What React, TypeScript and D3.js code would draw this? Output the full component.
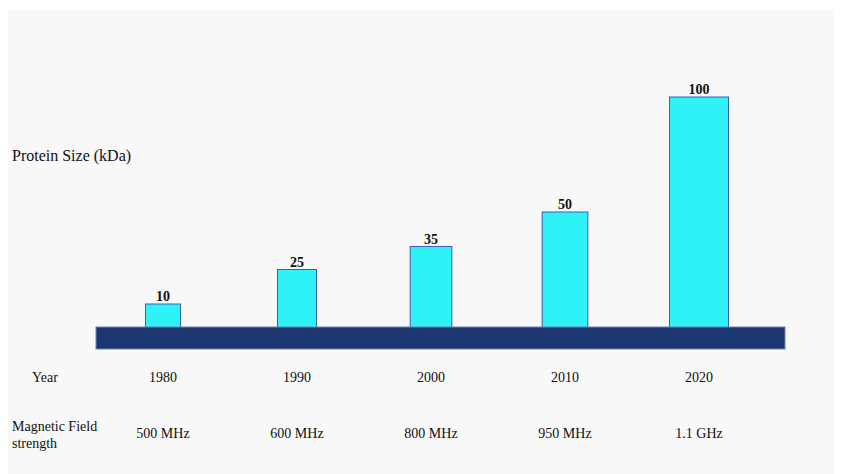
import React from "react";
import * as d3 from "d3";

const years = ["1980", "1990", "2000", "2010", "2020"];
const proteinSize = [10, 25, 35, 50, 100];
const fieldStrength = ["500 MHz", "600 MHz", "800 MHz", "950 MHz", "1.1 GHz"];

const W = 841;
const H = 474;
const baseTop = 327;
const baseBottom = 349;

export default function App() {
  const x = d3.scalePoint<string>().domain(years).range([163, 699]);
  const y = d3.scaleLinear().domain([0, 100]).range([baseTop, baseTop - 230]);
  const w = d3.scaleLinear().domain([10, 100]).range([35, 59]);
  const font = "'Liberation Serif', 'Times New Roman', serif";

  return (
    <svg width={W} height={H} style={{ position: "absolute", left: 0, top: 0 }}>
      <rect x={0} y={0} width={W} height={H} fill="#ffffff" />
      <rect x={8} y={10} width={826} height={H - 10} fill="#f8f8f8" />
      {years.map((yr, i) => {
        const v = proteinSize[i];
        const cx = x(yr)!;
        const bw = w(v);
        return (
          <g key={yr}>
            <rect
              x={cx - bw / 2}
              y={y(v)}
              width={bw}
              height={baseTop + 1 - y(v)}
              fill="#2ef2f5"
              stroke="#3b5cb8"
              strokeWidth={1}
            />
            <text
              x={cx}
              y={y(v) - 3}
              textAnchor="middle"
              fontFamily={font}
              fontWeight="bold"
              fontSize={14}
              fill="#111"
            >
              {v}
            </text>
          </g>
        );
      })}
      <rect
        x={96}
        y={baseTop}
        width={689}
        height={baseBottom - baseTop}
        fill="#1c3670"
        stroke="#7083b3"
        strokeWidth={1}
      />
      <text x={12} y={161} fontFamily={font} fontSize={16} fill="#111">
        Protein Size (kDa)
      </text>
      <text x={32} y={382} fontFamily={font} fontSize={14} fill="#111">
        Year
      </text>
      <text x={12} y={431} fontFamily={font} fontSize={14} fill="#111">
        Magnetic Field
      </text>
      <text x={12} y={448} fontFamily={font} fontSize={14} fill="#111">
        strength
      </text>
      {years.map((yr, i) => (
        <g key={"l" + yr}>
          <text x={x(yr)!} y={382} textAnchor="middle" fontFamily={font} fontSize={14} fill="#111">
            {yr}
          </text>
          <text x={x(yr)!} y={438} textAnchor="middle" fontFamily={font} fontSize={14} fill="#111">
            {fieldStrength[i]}
          </text>
        </g>
      ))}
    </svg>
  );
}
